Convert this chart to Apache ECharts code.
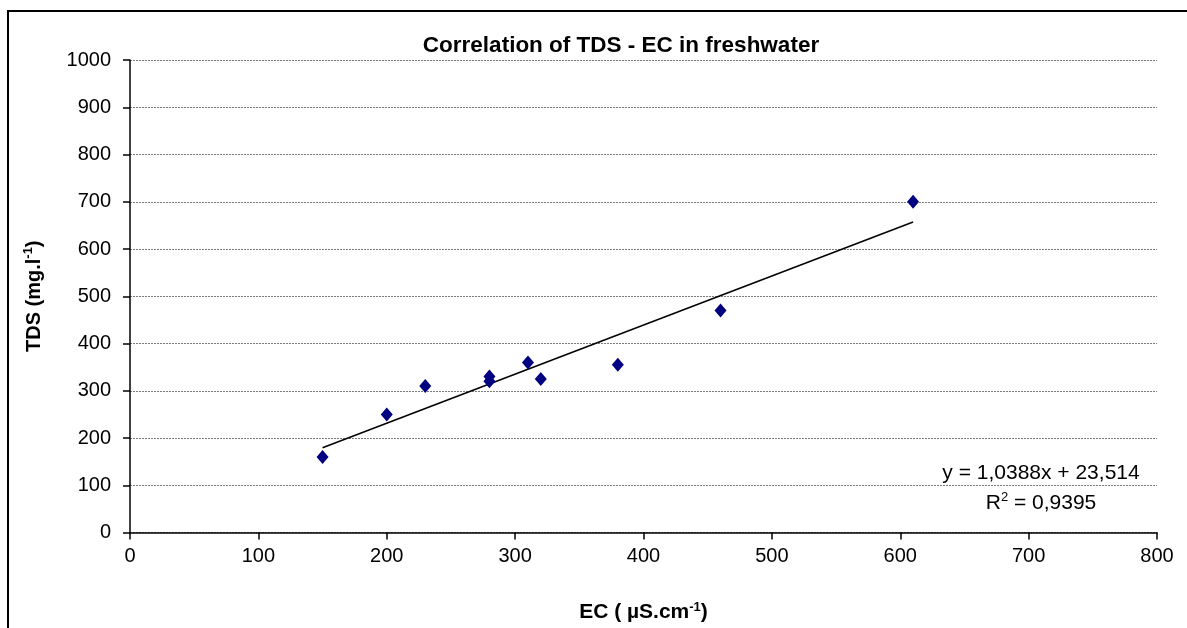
<!DOCTYPE html>
<html>
<head>
<meta charset="utf-8">
<script src="https://cdn.jsdelivr.net/npm/echarts@6/dist/echarts.min.js"></script>
<style>
html,body{margin:0;padding:0;background:#fff;}
#chart{width:1187px;height:628px;}
</style>
</head>
<body>
<div id="chart"></div>
<script>
// Data
const ecValues  = [150, 200, 230, 280, 280, 310, 320, 380, 460, 610];
const tdsValues = [160, 250, 310, 330, 320, 360, 325, 355, 470, 700];
const trendSlope = 1.0388;
const trendIntercept = 23.514;
const rSquared = '0,9395';
const titleText = 'Correlation of TDS - EC in freshwater';
const xTicks = [0, 100, 200, 300, 400, 500, 600, 700, 800];
const yTicks = [0, 100, 200, 300, 400, 500, 600, 700, 800, 900, 1000];

const points = ecValues.map((x, i) => [x, tdsValues[i]]);
const xMinData = Math.min(...ecValues), xMaxData = Math.max(...ecValues);
const trend = [
  [xMinData, trendSlope * xMinData + trendIntercept],
  [xMaxData, trendSlope * xMaxData + trendIntercept]
];

const FONT = '"Liberation Sans", Arial, sans-serif';
const chart = echarts.init(document.getElementById('chart'), null, {renderer: 'canvas'});
const option = {
  backgroundColor: '#fff',
  animation: false,
  grid: {left: 130, right: 30, top: 60, bottom: 95, containLabel: false},
  xAxis: {
    type: 'value', min: xTicks[0], max: xTicks[xTicks.length - 1], interval: 100,
    axisLine: {show: true, onZero: false, lineStyle: {color: '#000', width: 1.5}},
    axisTick: {show: true, inside: false, length: 7, lineStyle: {color: '#000', width: 1.5}},
    axisLabel: {color: '#000', fontSize: 20, fontFamily: FONT, margin: 14, formatter: v => String(v)},
    splitLine: {show: false},
    name: '{b|EC ( µS.cm}{s|-1}{b|)}',
    nameLocation: 'middle', nameGap: 68,
    nameTextStyle: {
      rich: {
        b: {fontSize: 21, fontWeight: 'bold', fontFamily: FONT, color: '#000', lineHeight: 24},
        s: {fontSize: 13, fontWeight: 'bold', fontFamily: FONT, color: '#000', verticalAlign: 'top', lineHeight: 24}
      }
    }
  },
  yAxis: {
    type: 'value', min: yTicks[0], max: yTicks[yTicks.length - 1], interval: 100,
    axisLine: {show: true, lineStyle: {color: '#000', width: 1.5}},
    axisTick: {show: true, inside: false, length: 7, lineStyle: {color: '#000', width: 1.5}},
    axisLabel: {color: '#000', fontSize: 20, fontFamily: FONT, margin: 19, formatter: v => String(v)},
    splitLine: {show: true, lineStyle: {color: '#7a7a7a', width: 1, type: [2, 1]}},
    name: '{b|TDS (mg.l}{s|-1}{b|)}',
    nameLocation: 'middle', nameGap: 84, nameRotate: 90,
    nameTextStyle: {
      rich: {
        b: {fontSize: 20, fontWeight: 'bold', fontFamily: FONT, color: '#000', lineHeight: 24},
        s: {fontSize: 13, fontWeight: 'bold', fontFamily: FONT, color: '#000', verticalAlign: 'top', lineHeight: 24}
      }
    }
  },
  series: [
    {
      type: 'line', data: trend, showSymbol: false, symbol: 'none',
      lineStyle: {color: '#000', width: 1.5}, z: 2, silent: true
    },
    {
      type: 'scatter', data: points, symbol: 'diamond', symbolSize: [12, 14],
      itemStyle: {color: '#000080', opacity: 1}, z: 3
    }
  ],
  graphic: [
    {type: 'rect', shape: {x: 8, y: 11, width: 1250, height: 700}, style: {fill: 'none', stroke: '#000', lineWidth: 2}, silent: true},
    {type: 'text', x: 621, y: 46, style: {text: titleText, font: 'bold 22.5px ' + FONT, fill: '#000', textAlign: 'center', textVerticalAlign: 'middle'}},
    {type: 'text', x: 1041, y: 473, style: {text: 'y = ' + String(trendSlope).replace('.', ',') + 'x + ' + String(trendIntercept).replace('.', ','), font: '21px ' + FONT, fill: '#000', textAlign: 'center', textVerticalAlign: 'middle'}},
    {type: 'text', x: 1041, y: 503, style: {
      text: '{r|R}{s|2}{r| = ' + rSquared + '}', textAlign: 'center', textVerticalAlign: 'middle',
      rich: {
        r: {font: '21px ' + FONT, fill: '#000', lineHeight: 24},
        s: {font: '13px ' + FONT, fill: '#000', verticalAlign: 'top', lineHeight: 24}
      }
    }}
  ]
};
chart.setOption(option);
</script>
</body>
</html>
